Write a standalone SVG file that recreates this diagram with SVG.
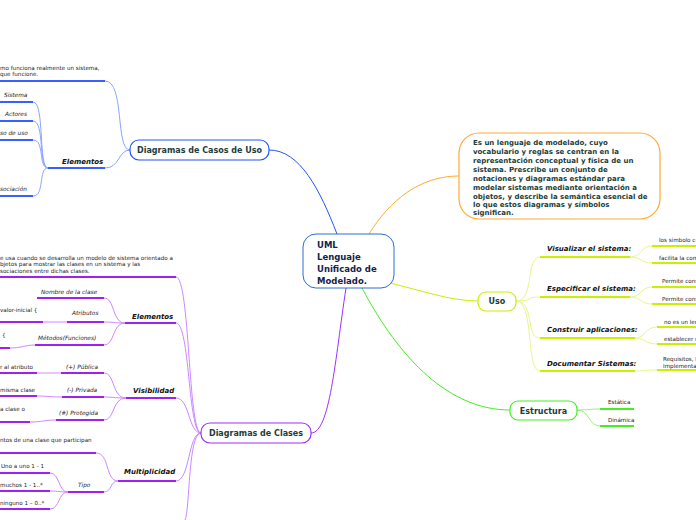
<svg xmlns="http://www.w3.org/2000/svg" width="696" height="520" viewBox="0 0 696 520">
<style>
text{font-family:"DejaVu Sans","Liberation Sans",sans-serif;fill:#222}
.t{font-size:5.6px}
.i{font-size:5.8px;font-style:italic}
.h{font-size:7px;font-weight:bold;font-style:italic;fill:#111}
.n{font-size:8px;font-weight:bold;fill:#1b3d3a}
.b{stroke:#3a5fff}.bl{stroke:#8aa6ff}
.p{stroke:#a020f0}.pl{stroke:#cc88ff}
.g{stroke:#c8f000}.gl{stroke:#e6f88a}
.e{stroke:#44ee22}.el{stroke:#99f07a}
.u{stroke-width:2;fill:none}
.c{fill:none;stroke-width:1}
</style>
<rect width="696" height="520" fill="#fff"/>
<g id="connectors">
<path class="c" d="M337,234 C320,190 300,150 269,150" stroke="#2255ff" stroke-width="1.2"/>
<path class="c" d="M346,288 C335,360 330,433 311,433" stroke="#9b30ff" stroke-width="1.2"/>
<path class="c" d="M369,234 C390,200 420,176 459,176" stroke="#ffaa33" stroke-width="1.2"/>
<path class="c" d="M390,283 C420,290 450,301 478,301" stroke="#c8f000" stroke-width="1.2"/>
<path class="c" d="M362,288 C400,360 450,410 510,410" stroke="#44ee22" stroke-width="1.2"/>
<!-- casos -->
<path class="c bl" d="M105,81 C125,81 115,150 130,150"/>
<path class="c bl" d="M105,168 C120,168 118,150 130,150"/>
<path class="c bl" d="M33,102 C45,102 38,168 48,168"/>
<path class="c bl" d="M33,121 C45,121 38,168 48,168"/>
<path class="c bl" d="M33,140 C45,140 38,168 48,168"/>
<path class="c bl" d="M33,196 C45,196 38,168 48,168"/>
<path class="u b" d="M0,81H105M48,168H105M0,102H33M0,121H33M0,140H33M0,196H33"/>
<!-- clases -->
<path class="c pl" d="M176,277 C190,277 188,433 201,433"/>
<path class="c pl" d="M176,323 C190,323 188,433 201,433"/>
<path class="c pl" d="M176,398 C190,398 188,433 201,433"/>
<path class="c pl" d="M176,481 C190,481 188,433 201,433"/>
<path class="c pl" d="M201,433 C188,433 190,510 185,520"/>
<path class="c pl" d="M104,298 C115,298 112,323 125,323"/>
<path class="c pl" d="M104,322 C115,322 112,323 125,323"/>
<path class="c pl" d="M104,345 C115,345 112,323 125,323"/>
<path class="c pl" d="M43,322 C55,322 55,322 67,322"/>
<path class="c pl" d="M10,348 C22,348 25,345 35,345"/>
<path class="c pl" d="M104,373 C115,373 112,398 126,398"/>
<path class="c pl" d="M104,397 C115,397 112,398 126,398"/>
<path class="c pl" d="M104,420 C115,420 112,398 126,398"/>
<path class="c pl" d="M37,373 C48,373 50,373 61,373"/>
<path class="c pl" d="M37,396 C48,396 50,397 62,397"/>
<path class="c pl" d="M30,422 C42,422 45,420 56,420"/>
<path class="c pl" d="M96,453 C110,453 105,481 118,481"/>
<path class="c pl" d="M104,492 C112,492 110,481 118,481"/>
<path class="c pl" d="M50,473 C60,473 58,492 68,492"/>
<path class="c pl" d="M50,491 C60,491 58,492 68,492"/>
<path class="c pl" d="M50,509 C60,509 58,492 68,492"/>
<path class="u p" d="M0,277H176M125,323H176M37,298H104M67,322H104M35,345H104M0,322H43M0,348H10M126,398H176M61,373H104M62,397H104M56,420H104M0,373H37M0,396H37M0,422H30M118,481H176M0,453H96M68,492H104M0,473H50M0,491H50M0,509H50"/>
<!-- uso -->
<path class="c gl" d="M516,301 C535,301 525,257 540,257"/>
<path class="c gl" d="M516,301 C535,301 525,297 540,297"/>
<path class="c gl" d="M516,301 C535,301 525,338 540,338"/>
<path class="c gl" d="M516,301 C535,301 525,371 540,371"/>
<path class="c gl" d="M630,257 C642,257 640,246 652,246"/>
<path class="c gl" d="M630,257 C642,257 640,263 652,263"/>
<path class="c gl" d="M630,297 C642,297 640,287 652,287"/>
<path class="c gl" d="M630,297 C642,297 640,304 652,304"/>
<path class="c gl" d="M635,338 C645,338 645,327 657,327"/>
<path class="c gl" d="M635,338 C645,338 645,344 657,344"/>
<path class="c gl" d="M635,371 C645,371 645,370 657,370"/>
<path class="u g" d="M540,257H630M540,297H630M540,338H635M540,371H635M652,246H696M652,263H696M652,287H696M652,304H696M657,327H696M657,344H696M657,370H696"/>
<!-- estructura -->
<path class="c el" d="M577,410 C590,410 588,409 600,409"/>
<path class="c el" d="M577,410 C590,410 588,426 600,426"/>
<path class="u e" d="M600,409H634M600,426H634"/>
</g>
<g id="center"><rect x="303" y="234" width="91" height="54" rx="13" fill="#fff" stroke="#2a6fd6" stroke-width="1"/>
<text class="n" style="font-size:8.5px;fill:#15224a"><tspan x="317" y="248">UML</tspan><tspan x="317" y="260">Lenguaje</tspan><tspan x="317" y="272">Unificado de</tspan><tspan x="317" y="284">Modelado.</tspan></text></g>
<g id="def"><rect x="459" y="133" width="201" height="86" rx="20" fill="#fff" stroke="#ffaa33" stroke-width="1.2"/>
<text class="n" style="font-size:7px"><tspan x="473" y="145">Es un lenguaje de modelado, cuyo</tspan><tspan x="473" y="154">vocabulario y reglas se centran en la</tspan><tspan x="473" y="163">representación conceptual y física de un</tspan><tspan x="473" y="172">sistema. Prescribe un conjunto de</tspan><tspan x="473" y="181">notaciones y diagramas estándar para</tspan><tspan x="473" y="190">modelar sistemas mediante orientación a</tspan><tspan x="473" y="199">objetos, y describe la semántica esencial de</tspan><tspan x="473" y="207">lo que estos diagramas y símbolos</tspan><tspan x="473" y="215">significan.</tspan></text></g>
<g id="casos"><rect x="130" y="140" width="139" height="20" rx="9" fill="#fff" stroke="#2255ff" stroke-width="1.2"/>
<text class="n" x="199.5" y="153" text-anchor="middle">Diagramas de Casos de Uso</text>
<text class="t"><tspan x="0" y="70">mo funciona realmente un sistema,</tspan><tspan x="0" y="76">que funcione.</tspan></text>
<text class="h" x="62" y="164">Elementos</text>
<text class="i" x="4" y="97">Sistema</text><text class="i" x="5" y="116">Actores</text><text class="i" x="0" y="135">so de uso</text><text class="i" x="0" y="191">sociación</text></g>
<g id="clases"><rect x="201" y="423" width="110" height="20" rx="9" fill="#fff" stroke="#9b30ff" stroke-width="1.2"/>
<text class="n" x="256" y="436" text-anchor="middle">Diagramas de Clases</text>
<text class="t"><tspan x="0" y="260">e usa cuando se desarrolla un modelo de sistema orientado a</tspan><tspan x="0" y="266">bjetos para mostrar las clases en un sistema y las</tspan><tspan x="0" y="273">sociaciones entre dichas clases.</tspan></text>
<text class="h" x="132" y="319">Elementos</text>
<text class="i" x="41" y="294">Nombre de la clase</text><text class="i" x="72" y="315">Atributos</text><text class="i" x="38" y="340">Métodos(Funciones)</text>
<text class="t" x="0" y="312">valor-inicial {</text><text class="t" x="2" y="337">{</text>
<text class="h" x="133" y="393">Visibilidad</text>
<text class="i" x="66" y="369">(+) Pública</text><text class="i" x="67" y="392">(-) Privada</text><text class="i" x="59" y="415">(#) Protegida</text>
<text class="t" x="0" y="369">r al atributo</text><text class="t" x="0" y="392">misma clase</text><text class="t" x="0" y="411">a clase o</text>
<text class="h" x="124" y="474">Multiplicidad</text>
<text class="t" x="0" y="442">ntos de una clase que participan</text>
<text class="i" x="78" y="487">Tipo</text>
<text class="t" x="1" y="468">Uno a uno 1 - 1</text><text class="t" x="0" y="487">muchos 1 - 1..*</text><text class="t" x="0" y="505">ninguno 1 – 0..*</text></g>
<g id="uso"><rect x="478" y="292" width="38" height="19" rx="8" fill="#fff" stroke="#c8f000" stroke-width="1.2"/>
<text class="n" x="497" y="304" text-anchor="middle">Uso</text>
<text class="h" x="547" y="251">Visualizar el sistema:</text><text class="h" x="547" y="291">Especificar el sistema:</text><text class="h" x="547" y="332">Construir aplicaciones:</text><text class="h" x="547" y="366">Documentar Sistemas:</text>
<text class="t" x="659" y="242">los símbolo cu</text><text class="t" x="659" y="260">facilita la com</text><text class="t" x="662" y="283">Permite cons</text><text class="t" x="662" y="301">Permite cons</text><text class="t" x="664" y="324">no es un len</text><text class="t" x="664" y="341">establecer u</text>
<text class="t"><tspan x="663" y="361">Requisitos, I</tspan><tspan x="663" y="368">Implementa</tspan></text></g>
<g id="estructura"><rect x="510" y="401" width="67" height="19" rx="8" fill="#fff" stroke="#44ee22" stroke-width="1.2"/>
<text class="n" x="543.5" y="414" text-anchor="middle">Estructura</text>
<text class="t" x="608" y="404">Estática</text><text class="t" x="608" y="422">Dinámica</text></g>
</svg>
